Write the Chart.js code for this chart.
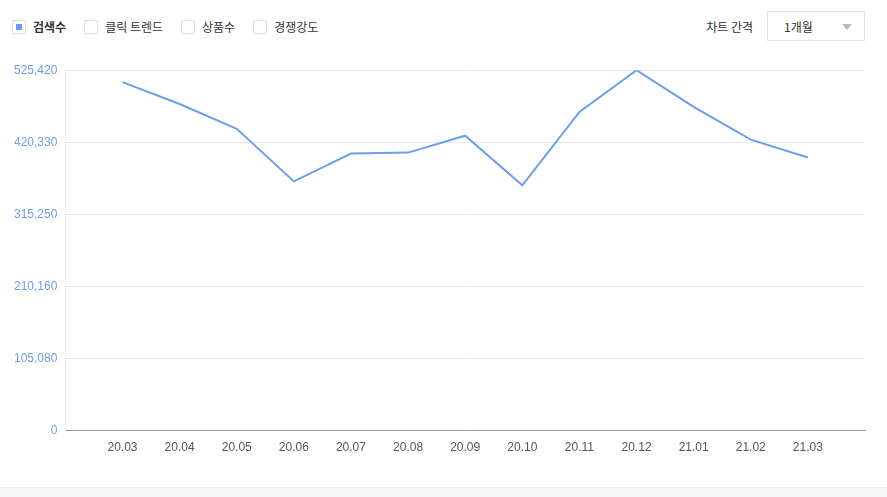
<!DOCTYPE html>
<html>
<head>
<meta charset="utf-8">
<script src="https://cdn.jsdelivr.net/npm/chart.js@4"></script>
<style>
  body { margin:0; width:887px; height:497px; background:#fff; font-family:"Noto Sans CJK KR","Noto Sans",sans-serif; position:relative; overflow:hidden; }
  .legend { position:absolute; left:12px; top:18px; display:flex; font-size:12px; color:#333; }
  .legend span { display:flex; align-items:center; margin-right:18px; }
  .box { width:14px; height:14px; border:1px solid #ddd; border-radius:2px; margin-right:7px; box-sizing:border-box; position:relative; }
  .box.on::after { content:""; position:absolute; left:3px; top:3px; width:6px; height:6px; background:#6d9eeb; }
  .interval { position:absolute; right:22px; top:11px; display:flex; align-items:center; font-size:12px; color:#333; }
  .sel { margin-left:14px; width:98px; height:30px; border:1px solid #e3e3e3; box-sizing:border-box; display:flex; align-items:center; padding-left:16px; position:relative; }
  .sel::after { content:""; position:absolute; right:12px; top:12px; border:5px solid transparent; border-top:6px solid #bbb; }
  .foot { position:absolute; left:0; right:0; top:487px; height:10px; background:#f7f8fa; border-top:1px solid #eee; }
  #wrap { position:absolute; left:0; top:55px; width:887px; height:410px; }
</style>
</head>
<body>
<div class="legend">
  <span><i class="box on"></i><b style="font-weight:600">검색수</b></span>
  <span><i class="box"></i>클릭 트렌드</span>
  <span><i class="box"></i>상품수</span>
  <span><i class="box"></i>경쟁강도</span>
</div>
<div class="interval">차트 간격<div class="sel">1개월</div></div>
<div id="wrap"><canvas id="c"></canvas></div>
<div class="foot"></div>
<script>
// 월별 검색수
const months = ['20.03','20.04','20.05','20.06','20.07','20.08','20.09','20.10','20.11','20.12','21.01','21.02','21.03'];
const searches = [508050, 476200, 440020, 363300, 403830, 405280, 429890, 357510, 464630, 525420, 471860, 424100, 398040];
const yTicks = [0, 105080, 210160, 315250, 420330, 525420];

// 양 끝에 빈 칸을 둬서 축 여백을 만든다
const labels = [''].concat(months, ['']);
const data = [null].concat(searches, [null]);

new Chart(document.getElementById('c'), {
  type: 'line',
  data: {
    labels: labels,
    datasets: [{
      data: data,
      borderColor: '#6d9eeb',
      borderWidth: 2,
      pointRadius: 0,
      tension: 0,
      fill: false
    }]
  },
  options: {
    responsive: true,
    maintainAspectRatio: false,
    animation: false,
    layout: { padding: { left: 6, right: 22, top: 8, bottom: 0 } },
    plugins: { legend: { display: false }, tooltip: { enabled: false } },
    scales: {
      x: {
        offset: false,
        grid: { display: false, drawTicks: false },
        border: { color: '#999' },
        ticks: { color: '#555', font: { size: 12 }, padding: 10, autoSkip: false, maxRotation: 0 }
      },
      y: {
        min: 0, max: 525420,
        afterBuildTicks: (axis) => { axis.ticks = yTicks.map(v => ({ value: v })); },
        grid: { color: '#e8e8e8', drawTicks: false },
        border: { color: '#eee' },
        ticks: { color: '#6d9eeb', font: { size: 12 }, padding: 8,
          callback: (v) => v.toLocaleString('en-US') }
      }
    }
  }
});
</script>
</body>
</html>
